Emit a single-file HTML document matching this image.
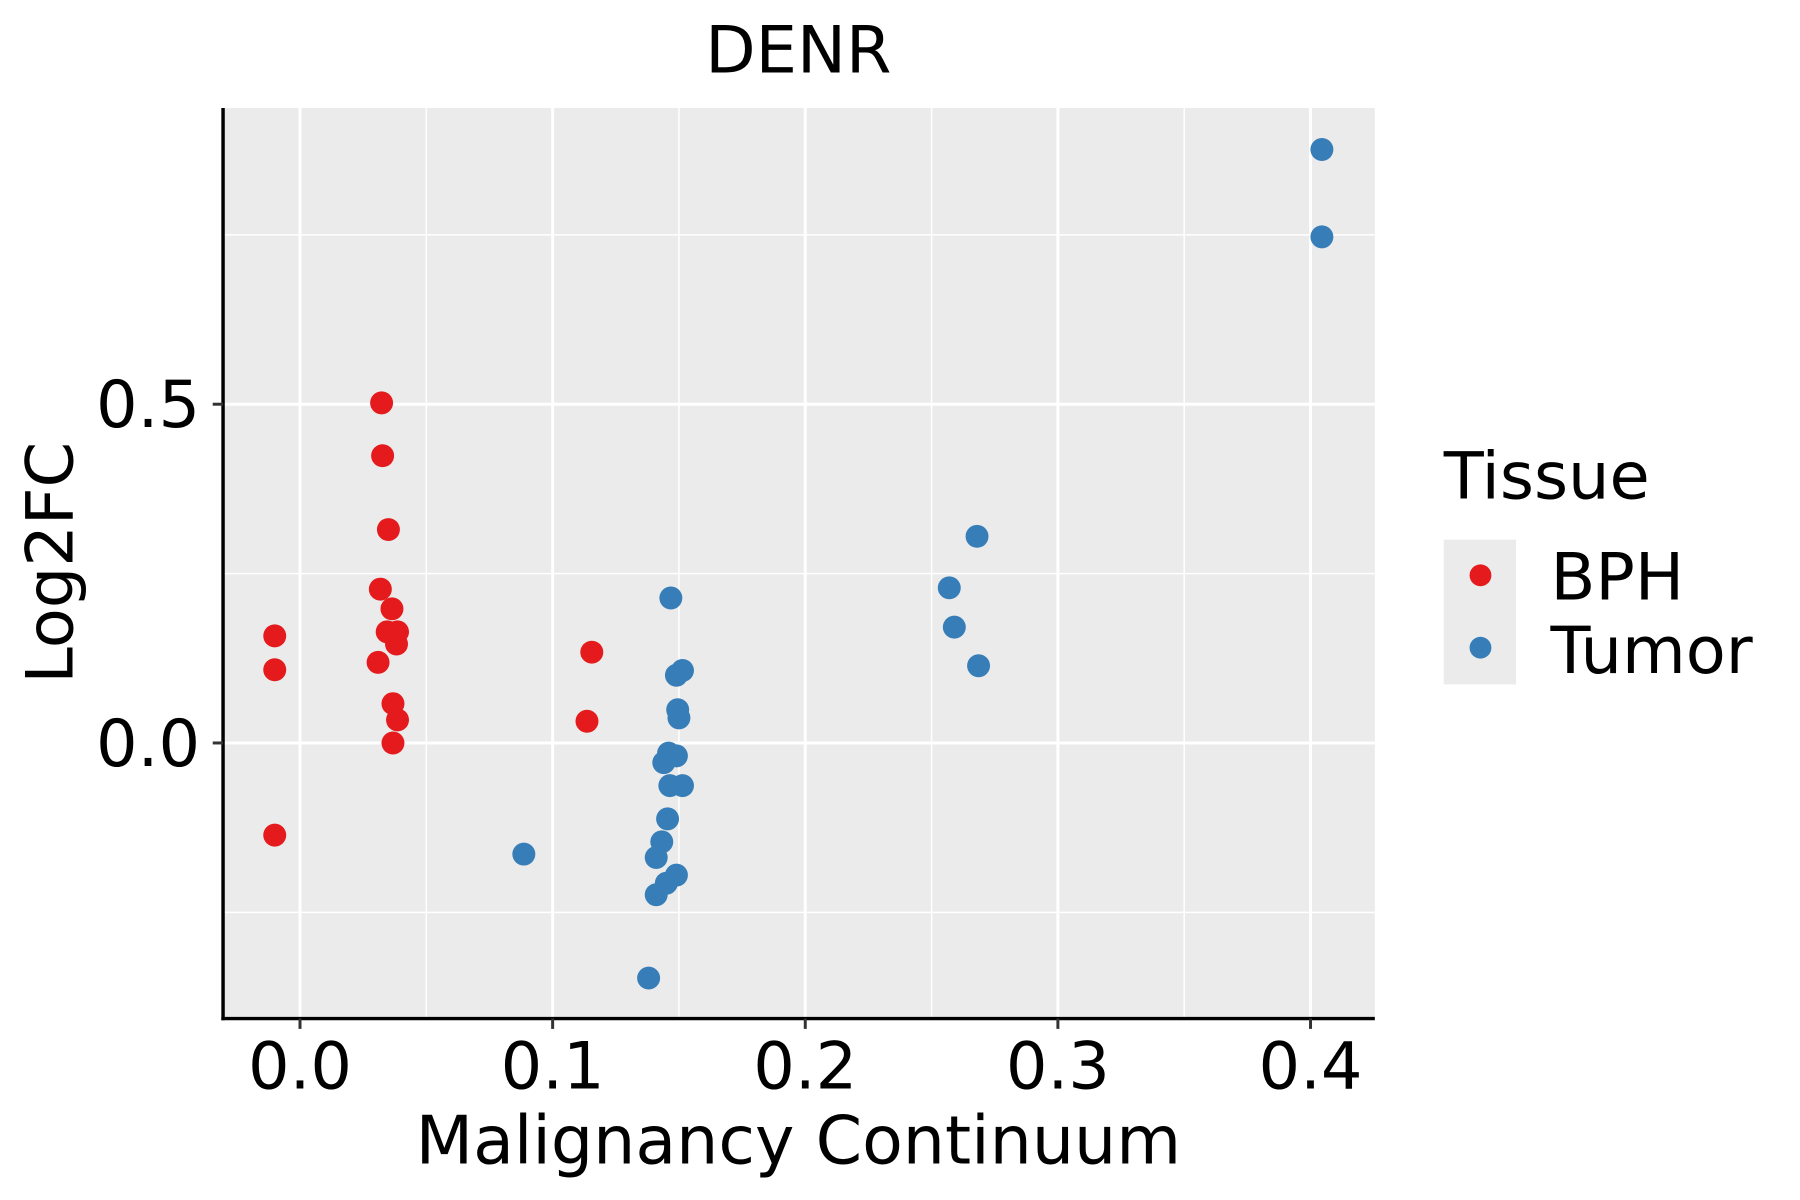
<!DOCTYPE html>
<html><head><meta charset="utf-8"><style>
html,body{margin:0;padding:0;background:#fff}
svg{display:block}
text{font-family:"DejaVu Sans","Liberation Sans",sans-serif}
</style></head><body>
<svg id="chart" width="1800" height="1200" viewBox="0 0 1567 1045" xmlns="http://www.w3.org/2000/svg">
<text x="695" y="63" font-size="57" text-anchor="middle">DENR</text>
<rect x="194" y="94" width="1003" height="793" fill="#ebebeb"/>
<g id="grid"></g>
<g id="points"></g>
<line x1="194" y1="94" x2="194" y2="888.5" stroke="#000" stroke-width="3"/>
<line x1="192.5" y1="887" x2="1197" y2="887" stroke="#000" stroke-width="3"/>
<g id="axes"></g>
<text x="695" y="1013" font-size="58" text-anchor="middle">Malignancy Continuum</text>
<text transform="translate(63,490) rotate(-90)" font-size="57" text-anchor="middle">Log2FC</text>
<g>
<text x="1257" y="434" font-size="57">Tissue</text>
<rect x="1257" y="470" width="63" height="126" fill="#ebebeb"/>
<circle cx="1289" cy="501" r="9.5" fill="#E41A1C"/>
<circle cx="1289" cy="564" r="9.5" fill="#377EB8"/>
<text x="1350" y="522" font-size="57">BPH</text>
<text x="1350" y="586" font-size="57">Tumor</text>
</g>
</svg>
<script>
const bphX=[-0.010,-0.010,-0.010,0.0323,0.0327,0.035,0.0318,0.0364,0.0345,0.0386,0.0382,0.0309,0.0368,0.0386,0.0368,0.1155,0.1136];
const bphY=[0.158,0.108,-0.136,0.502,0.424,0.315,0.227,0.198,0.164,0.164,0.146,0.119,0.058,0.034,0.0,0.134,0.032];
const tumorX=[0.4045,0.4045,0.268,0.257,0.259,0.2686,0.1468,0.1514,0.149,0.1495,0.15,0.1459,0.149,0.144,0.1464,0.1514,0.1455,0.1432,0.141,0.149,0.145,0.141,0.138,0.0886];
const tumorY=[0.876,0.747,0.305,0.229,0.171,0.114,0.214,0.107,0.100,0.049,0.037,-0.015,-0.019,-0.029,-0.063,-0.063,-0.112,-0.146,-0.169,-0.195,-0.207,-0.224,-0.347,-0.164];
const xTicks=[0,0.1,0.2,0.3,0.4];
const xTickLabels=["0.0","0.1","0.2","0.3","0.4"];
const xMinor=[0.05,0.15,0.25,0.35];
const yTicks=[0,0.5];
const yTickLabels=["0.0","0.5"];
const yMinor=[-0.25,0.25,0.75];

const NS="http://www.w3.org/2000/svg";
const L=194,R=1197,T=94,B=887;
function sx(v){return 261+2200*v;}
function sy(v){return 647-590*v;}
function mk(tag,attrs,parent){const e=document.createElementNS(NS,tag);for(const k in attrs)e.setAttribute(k,attrs[k]);parent.appendChild(e);return e;}
const grid=document.getElementById('grid');
const axes=document.getElementById('axes');
const pts=document.getElementById('points');
xMinor.forEach(v=>{const e=mk('line',{x1:sx(v),x2:sx(v),y1:T,y2:B,stroke:'#fff','stroke-width':1.3},grid);

});
yMinor.forEach(v=>{const e=mk('line',{x1:L,x2:R,y1:sy(v),y2:sy(v),stroke:'#fff','stroke-width':1.3},grid);

});
xTicks.forEach((v,i)=>{const g=mk('line',{x1:sx(v),x2:sx(v),y1:T,y2:B,stroke:'#fff','stroke-width':2.6},grid);


const t=mk('line',{x1:sx(v),x2:sx(v),y1:B,y2:B+9,stroke:'#333','stroke-width':2.6},axes);


const l=mk('text',{x:sx(v),y:948,'font-size':57,'text-anchor':'middle'},axes);l.textContent=xTickLabels[i];

});
yTicks.forEach((v,i)=>{const g=mk('line',{x1:L,x2:R,y1:sy(v),y2:sy(v),stroke:'#fff','stroke-width':2.6},grid);


const t=mk('line',{x1:L-9,x2:L,y1:sy(v),y2:sy(v),stroke:'#333','stroke-width':2.6},axes);


const l=mk('text',{x:174,y:sy(v)+20,'font-size':57,'text-anchor':'end'},axes);l.textContent=yTickLabels[i];

});
bphX.forEach((v,i)=>{const c=mk('circle',{cx:sx(v),cy:sy(bphY[i]),r:10,fill:'#E41A1C'},pts);

});
tumorX.forEach((v,i)=>{const c=mk('circle',{cx:sx(v),cy:sy(tumorY[i]),r:10,fill:'#377EB8'},pts);

});
</script>
</body></html>
